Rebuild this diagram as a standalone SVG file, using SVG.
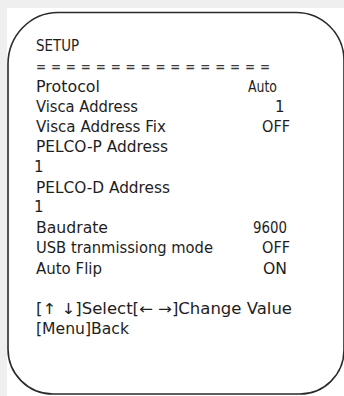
<svg xmlns="http://www.w3.org/2000/svg" width="344" height="396" viewBox="0 0 344 396">
<style>
.t{font-family:"DejaVu Sans","Liberation Sans",sans-serif;font-size:15px;fill:#1e1e1e}
.eq{font-family:"DejaVu Sans","Liberation Sans",sans-serif;font-size:12px;font-weight:bold;fill:#3a3a3a}
.frame{fill:none;stroke:#2a2a2a;stroke-width:1.6}
</style>
<rect x="0" y="0" width="344" height="396" fill="#efefef"/>
<rect x="7" y="8" width="337" height="388" fill="#ffffff"/>
<g id="panel">
<path class="frame" d="M 58 12.5 L 296 12.5 A 48 48 0 0 1 344 60.5 L 344 350 A 44 44 0 0 1 300 394 L 53 394 A 45 45 0 0 1 8 349 L 8 64 A 50 52 0 0 1 58 12.5 Z"/>
</g>
<g id="menu">
<text class="t" x="36" y="51" textLength="43" lengthAdjust="spacingAndGlyphs">SETUP</text>
<text class="eq" x="36" y="71" textLength="234" lengthAdjust="spacing">= = = = = = = = = = = = = = = =</text>
<text class="t" x="36" y="91.5" textLength="64" lengthAdjust="spacingAndGlyphs">Protocol</text>
<text class="t" x="248" y="91.5" textLength="29" lengthAdjust="spacingAndGlyphs">Auto</text>
<text class="t" x="275" y="111.5">1</text>
<text class="t" x="36" y="111.5" textLength="102" lengthAdjust="spacingAndGlyphs">Visca Address</text>
<text class="t" x="36" y="131.5" textLength="130" lengthAdjust="spacingAndGlyphs">Visca Address Fix</text>
<text class="t" x="262" y="131.5" textLength="28" lengthAdjust="spacingAndGlyphs">OFF</text>
<text class="t" x="36" y="152" textLength="132" lengthAdjust="spacingAndGlyphs">PELCO-P Address</text>
<text class="t" x="34" y="172">1</text>
<text class="t" x="36" y="192.5" textLength="134" lengthAdjust="spacingAndGlyphs">PELCO-D Address</text>
<text class="t" x="34" y="212">1</text>
<text class="t" x="36" y="232.5" textLength="72" lengthAdjust="spacingAndGlyphs">Baudrate</text>
<text class="t" x="253" y="232.5" textLength="34" lengthAdjust="spacingAndGlyphs">9600</text>
<text class="t" x="36" y="253" textLength="177" lengthAdjust="spacingAndGlyphs">USB tranmissiong mode</text>
<text class="t" x="262" y="253" textLength="28" lengthAdjust="spacingAndGlyphs">OFF</text>
<text class="t" x="36" y="273.5" textLength="66" lengthAdjust="spacingAndGlyphs">Auto Flip</text>
<text class="t" x="263" y="273.5" textLength="24" lengthAdjust="spacingAndGlyphs">ON</text>
<text class="t" x="36" y="313.5" textLength="256" lengthAdjust="spacingAndGlyphs">[↑ ↓]Select[← →]Change Value</text>
<text class="t" x="36" y="333.5" textLength="93" lengthAdjust="spacingAndGlyphs">[Menu]Back</text>
</g>
</svg>
